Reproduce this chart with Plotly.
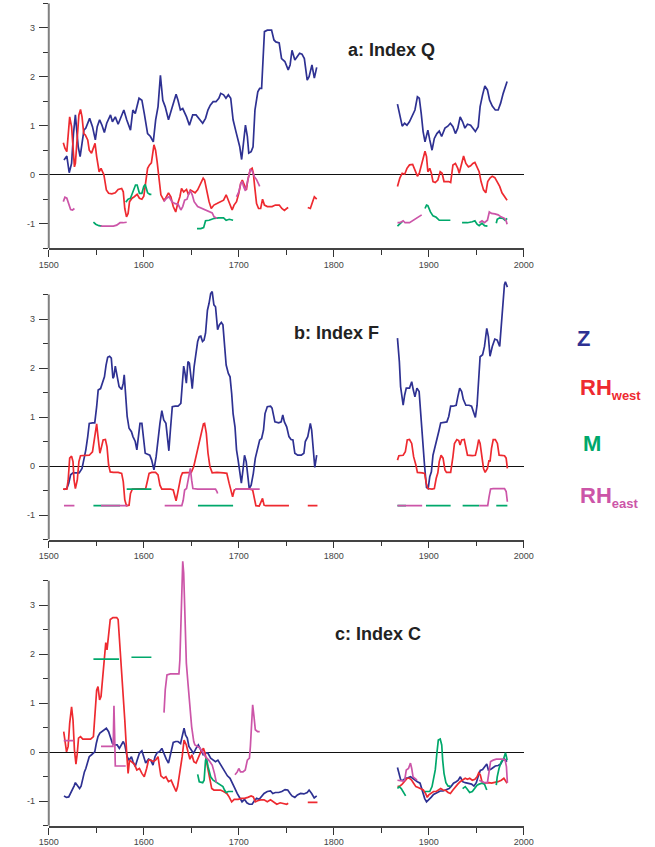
import plotly.graph_objects as go

# ---------------- data (year, value) segments ----------------
# Panel a: Index Q
A_Z = [
    [(1516,0.30),(1519,0.38),(1521.5,0.04),(1524,0.23),(1526,0.84),(1528,1.22),(1531,0.57),(1533,0.37),
     (1535,0.64),(1537,0.91),(1539,0.95),(1543,1.15),(1546,0.98),(1549,0.71),(1551,0.98),(1553.5,1.12),
     (1556,1.01),(1558.5,0.86),(1561,1.05),(1565,1.22),(1567,1.08),(1570,1.18),(1573,1.03),(1577,1.22),
     (1579,1.32),(1582,1.12),(1586,0.91),(1588.5,1.32),(1591,1.25),(1595,1.56),(1598,1.52),(1600.5,1.25),
     (1604,0.84),(1607,0.78),(1610,0.67),(1612.5,1.12),(1615,1.39),(1617.5,2.03),(1620,1.52),(1622.5,1.39),
     (1626,1.12),(1629.5,1.35),(1634,1.64),(1636,1.52),(1638.5,1.32),(1641,1.35),(1645,1.18),(1648,1.01),
     (1651.5,1.22),(1655,1.22),(1658,1.15),(1662,1.05),(1665,1.15),(1667.5,1.32),(1670,1.42),(1673,1.49),
     (1676,1.49),(1679,1.56),(1681,1.66),(1684,1.63),(1686.5,1.56),(1689,1.63),(1691.5,1.56),(1694,1.12),
     (1697,0.88),(1699,0.71),(1701,0.57),(1703,0.31),(1705,0.64),(1707,1.01),(1709,0.78),(1710.5,0.44),
     (1713,0.47),(1715,0.57),(1717,1.32),(1720,1.69),(1722,1.76),(1724,1.76),(1725.5,2.34),(1727,2.92),
     (1730,2.95),(1734.5,2.95),(1737,2.75),(1739,2.71),(1742.5,2.69),(1745,2.37),(1748.5,2.31),(1752,2.14),
     (1754,2.24),(1756,2.54),(1759,2.34),(1762,2.44),(1764,2.48),(1766.5,2.46),(1769,2.37),(1772,1.93),
     (1774,2.00),(1777,2.24),(1779.5,1.97),(1782,2.19)],
    [(1867,1.44),(1869.5,1.22),(1872,0.99),(1874.5,1.05),(1877,1.01),(1879.6,1.08),(1883,1.22),(1885.4,1.32),
     (1888,1.59),(1890,1.56),(1892,1.25),(1894,0.88),(1896,0.67),(1897.6,0.84),(1899,0.91),(1901,0.71),
     (1903.4,0.50),(1905.8,0.74),(1908.5,0.84),(1911,0.89),(1913.5,0.78),(1917,0.95),(1920,0.99),(1922.7,1.05),
     (1925.4,0.98),(1928,0.84),(1930.5,0.95),(1933,1.18),(1935.6,1.08),(1938,0.95),(1940.7,1.03),(1944,1.01),
     (1946.4,0.95),(1949,0.88),(1952,0.98),(1954,1.39),(1956.6,1.63),(1959,1.81),(1961.7,1.73),(1964,1.52),
     (1966.8,1.40),(1970,1.32),(1973,1.32),(1975.6,1.46),(1978.3,1.66),(1980.3,1.78),(1982.4,1.90)],
]
A_W = [
    [(1515.3,0.65),(1517,0.54),(1519,0.47),(1520.4,0.84),(1522,1.18),(1524,0.98),(1525.5,0.57),(1527,0.16),
     (1528,0.23),(1530,0.84),(1531.7,1.22),(1533.4,1.33),(1535,1.18),(1536.8,0.84),(1538.5,0.81),(1541,0.71),
     (1542.6,0.50),(1545,0.44),(1547,0.54),(1548.7,0.64),(1550.4,0.37),(1553,0.06),(1555,0.13),(1558,0.0),
     (1560.6,-0.31),(1563,-0.38),(1566.4,-0.39),(1570,-0.37),(1573,-0.30),(1576.7,-0.28),(1578.4,-0.35),
     (1580,-0.69),(1581.8,-0.86),(1583.5,-0.79),(1585,-0.55),(1587.6,-0.48),(1590,-0.45),(1593,-0.40),
     (1595.4,-0.48),(1598,-0.50),(1600,-0.44),(1602,-0.18),(1604,0.13),(1606,0.20),(1608,0.24),(1610.7,0.61),
     (1612.4,0.50),(1614,0.27),(1616,-0.11),(1618,-0.41),(1621,-0.52),(1623,-0.48),(1626,-0.37),(1628.5,-0.45),
     (1631,-0.65),(1633.6,-0.76),(1635.6,-0.60),(1638,-0.45),(1639.7,-0.28),(1642,-0.35),(1645,-0.30),
     (1647,-0.41),(1649,-0.31),(1651.6,-0.35),(1654,-0.37),(1656.7,-0.31),(1660,-0.18),(1662.5,-0.07),
     (1664,-0.11),(1666,-0.31),(1668.7,-0.55),(1671,-0.69),(1673.8,-0.62),(1677,-0.59),(1680.6,-0.55),
     (1684,-0.52),(1686.7,-0.41),(1689,-0.52),(1690.8,-0.62),(1693,-0.72),(1695,-0.62),(1697.6,-0.55),
     (1700,-0.38),(1702,-0.18),(1703.7,-0.11),(1706,-0.24),(1708,-0.31),(1709.5,-0.11),(1712,0.10),(1714,0.13),
     (1715.3,0.03),(1716.7,-0.24),(1718.7,-0.59),(1720.8,-0.69),(1723,-0.69),(1725,-0.50),(1727,-0.62),
     (1730,-0.65),(1735,-0.65),(1738.5,-0.62),(1742.6,-0.62),(1745.3,-0.69),(1748,-0.73),(1750.4,-0.69),
     (1752,-0.67)],
    [(1772.6,-0.67),(1775.3,-0.69),(1777.7,-0.55),(1779.5,-0.45),(1782,-0.50)],
    [(1867,-0.24),(1869.5,-0.07),(1872,0.03),(1874.6,0.01),(1877,0.13),(1879.7,0.20),(1883,0.21),(1885.4,0.11),
     (1888,-0.03),(1890,0.03),(1892,0.18),(1894,0.27),(1896,0.48),(1897.6,0.37),(1899,0.06),(1901,0.13),
     (1902.7,0.03),(1904.4,-0.14),(1906.8,-0.16),(1909.5,-0.11),(1912,0.06),(1914,0.03),(1916,-0.14),
     (1918.6,-0.14),(1921,-0.14),(1923,-0.16),(1925.4,0.20),(1928,0.23),(1930.5,0.13),(1932,0.03),(1934.6,0.23),
     (1936.6,0.38),(1939,0.23),(1941.7,0.16),(1944,0.18),(1946.4,0.23),(1948.5,0.25),(1950.8,0.16),(1953,0.06),
     (1955,-0.14),(1957.6,-0.31),(1960,-0.37),(1962,-0.14),(1964.4,-0.07),(1966.8,-0.03),(1969.5,-0.06),
     (1972,-0.14),(1974.6,-0.24),(1977,-0.37),(1979.7,-0.45),(1982.4,-0.52)],
]
A_M = [
    [(1547,-0.97),(1549.4,-1.01),(1552.8,-1.04),(1556,-1.05)],
    [(1581,-0.56),(1583.5,-0.50),(1586,-0.48),(1588.6,-0.35),(1591.3,-0.21),(1593,-0.21),(1595.4,-0.38),
     (1598,-0.38),(1600,-0.24),(1601.5,-0.20),(1604,-0.37),(1606.3,-0.40),(1608,-0.40)],
    [(1656,-1.10),(1660,-1.10),(1663,-1.08),(1665,-0.94),(1668.7,-0.93),(1672,-0.91),(1674.4,-0.89),
     (1679,-0.88),(1684,-0.88),(1686.7,-0.93),(1690,-0.91),(1694,-0.93)],
    [(1867,-1.05),(1869.5,-1.01),(1872,-0.96)],
    [(1896,-0.69),(1897.6,-0.62),(1899,-0.63),(1901.7,-0.76),(1904.4,-0.84),(1907.8,-0.87),(1911,-0.93),
     (1917,-0.93),(1922.7,-0.93)],
    [(1935,-0.98),(1940.7,-0.98),(1945.8,-0.96),(1948.5,-0.94),(1950.8,-1.01),(1953,-1.04),(1956,-0.99),
     (1958.6,-1.04),(1961.7,-1.05)],
    [(1971,-0.99),(1972,-0.91),(1974.6,-0.88),(1978,-0.89),(1980.3,-0.93),(1982.4,-0.89)],
]
A_E = [
    [(1515.3,-0.55),(1517,-0.46),(1519,-0.48),(1521,-0.62),(1523,-0.71),(1525,-0.72),(1527,-0.69)],
    [(1554.5,-1.05),(1561,-1.05),(1568,-1.05),(1571.5,-1.03),(1575,-0.98),(1578,-0.98),(1582,-0.97)],
    [(1621,-0.55),(1624,-0.48),(1626.7,-0.45),(1629.5,-0.55),(1633,-0.59),(1636,-0.60),(1639,-0.72),
     (1641,-0.65),(1643,-0.52),(1645.5,-0.50),(1647.5,-0.38),(1649,-0.33),(1651,-0.41),(1653,-0.55),
     (1656.7,-0.65),(1662,-0.69),(1667,-0.73),(1670,-0.76),(1672,-0.78),(1674,-0.86),(1677,-0.89)],
    [(1697.6,-0.45),(1700,-0.35),(1702,-0.18),(1703.7,-0.14),(1705,-0.24),(1707,-0.33),(1709.5,-0.11),
     (1712,0.10),(1714,0.08),(1716.4,-0.04),(1718.7,-0.10),(1720.8,-0.18),(1722,-0.24)],
    [(1867,-0.98),(1869.5,-0.98),(1873,-0.94),(1875,-0.98),(1879.7,-0.98),(1883,-0.94),(1886.4,-0.89),
     (1890,-0.86),(1892.5,-0.82)],
    [(1953,-0.98),(1956,-0.94),(1958.6,-0.98),(1961.7,-0.93),(1963.7,-0.76),(1966,-0.79),(1969.5,-0.80),
     (1973,-0.82),(1976,-0.86),(1979.7,-0.89),(1981.4,-0.94),(1982.4,-1.01)],
]

# Panel b: Index F
B_Z = [
    [(1516,-0.48),(1519,-0.46),(1521,-0.35),(1523,-0.18),(1525.5,-0.14),(1529,-0.14),(1532,-0.14),(1535,-0.05),
     (1537.5,0.19),(1539,0.33),(1541,0.60),(1542.6,0.87),(1546,0.88),(1548.4,0.88),(1550.4,1.21),(1552,1.55),
     (1554.5,1.58),(1557,1.76),(1558.6,1.82),(1560.3,2.06),(1562,2.22),(1564,2.24),(1565.8,2.20),(1567.5,1.79),
     (1568.5,1.82),(1570,2.04),(1571.6,1.86),(1574,1.62),(1576.7,1.56),(1578.4,1.69),(1579.4,1.86),(1580.7,1.55),
     (1582.5,1.01),(1584.5,0.77),(1587,0.70),(1588.6,0.60),(1591,0.50),(1592.7,0.33),(1594.4,0.67),(1596,0.87),
     (1598,0.87),(1599.5,0.60),(1601.5,0.26),(1604,0.24),(1606.3,0.22),(1608.3,0.12),(1610.7,-0.08),(1613,0.19),
     (1615,0.60),(1617,0.87),(1619,1.13),(1621,0.94),(1623.3,0.87),(1625,0.60),(1626.4,0.31),(1628,0.73),
     (1630,1.21),(1633,1.22),(1636,1.22),(1639,1.28),(1640.7,1.76),(1642,2.04),(1643.4,1.89),(1644.8,1.69),
     (1646.5,2.13),(1648,2.10),(1650,1.76),(1651,1.58),(1653,2.03),(1655,2.37),(1656.7,2.54),(1658.4,2.64),
     (1660,2.65),(1661.8,2.54),(1663.4,2.57),(1665,2.71),(1667,3.18),(1668.7,3.32),(1670.4,3.52),(1672,3.56),
     (1673.8,3.29),(1675.5,3.25),(1677.7,2.78),(1679.5,2.88),(1681.6,2.93),(1683.3,2.88),(1684.7,2.54),
     (1686.7,2.06),(1689,1.89),(1690.8,1.82),(1692.5,1.48),(1694,1.07),(1696,0.80),(1697.6,0.33),(1699.3,0.12),
     (1701,-0.15),(1702.7,-0.35),(1704.4,-0.08),(1706,0.22),(1707.8,0.09),(1709.5,-0.29),(1711,-0.46),
     (1713,-0.39),(1715.3,-0.15),(1717.4,0.16),(1719.8,0.36),(1722,0.53),(1724,0.56),(1726,0.73),(1727.6,1.07),
     (1730,1.21),(1733.4,1.22),(1735,1.18),(1738,0.90),(1742,0.88),(1744.6,0.90),(1746.3,1.04),(1748,0.90),
     (1750.4,0.80),(1752.8,0.60),(1755,0.54),(1757,0.53),(1759,0.26),(1762,0.22),(1765.8,0.22),(1768.5,0.26),
     (1770,0.50),(1772.6,0.60),(1775.3,0.87),(1776.7,0.73),(1779,0.19),(1780,-0.03),(1782,0.22)],
    [(1867,2.61),(1869,2.13),(1870.3,1.62),(1873,1.24),(1874.6,1.45),(1876.3,1.59),(1879.7,1.59),(1882,1.72),
     (1883.7,1.55),(1885.4,1.41),(1887.5,1.59),(1889.8,1.52),(1891.5,1.07),(1893,0.60),(1895.6,-0.01),
     (1897.6,-0.44),(1899.3,-0.46),(1901,-0.22),(1902.7,-0.12),(1904.4,0.22),(1906.8,0.39),(1909,0.60),
     (1910.8,0.73),(1912.5,0.88),(1915,0.89),(1919,0.90),(1921,1.01),(1923,1.22),(1925.4,1.22),(1928.8,1.24),
     (1930.5,1.41),(1932.5,1.59),(1934.6,1.52),(1936.3,1.36),(1939,1.24),(1942.4,1.24),(1945,1.22),
     (1947.5,1.07),(1949,0.99),(1950.8,1.24),(1952.5,1.76),(1954,2.23),(1956.6,2.27),(1958.6,2.44),(1961,2.81),
     (1962.7,2.64),(1964.4,2.24),(1966.8,2.44),(1969.5,2.59),(1972,2.57),(1974.6,2.44),(1976.3,2.91),
     (1978,3.39),(1979.6,3.70),(1980.6,3.76),(1982.7,3.65)],
]
B_W = [
    [(1515,-0.47),(1519,-0.47),(1520.4,-0.29),(1522,0.16),(1524,0.20),(1525.5,0.09),(1526.6,-0.29),(1528,-0.46),
     (1530,-0.29),(1531.7,0.09),(1533.4,0.21),(1536,0.21),(1539,0.21),(1542.6,0.22),(1546,0.29),(1547.7,0.53),
     (1549.4,0.80),(1550.4,0.86),(1551.8,0.60),(1553.8,0.26),(1555.5,0.39),(1557.2,0.53),(1559.6,0.54),
     (1561.3,0.39),(1563,0.02),(1564.7,-0.12),(1568,-0.13),(1573,-0.13),(1576.7,-0.15),(1578.4,-0.32),
     (1580,-0.69),(1581.8,-0.81),(1584.5,-0.80),(1586,-0.56),(1588,-0.47),(1592,-0.47),(1599,-0.47),
     (1602,-0.46),(1604,-0.29),(1605.6,-0.15),(1608.3,-0.13),(1612.4,-0.13),(1615,-0.18),(1617,-0.39),
     (1619,-0.47),(1622.6,-0.47),(1627.8,-0.47),(1631,-0.49),(1633,-0.63),(1634,-0.71),(1635.6,-0.56),
     (1637,-0.42),(1639,-0.22),(1640.7,-0.14),(1644.8,-0.13),(1650,-0.13),(1652.6,-0.01),(1655,0.19),
     (1657.4,0.36),(1659.5,0.53),(1661,0.67),(1662.8,0.86),(1664,0.87),(1665.8,0.67),(1667.6,0.26),
     (1669.6,-0.01),(1672,-0.14),(1677,-0.13),(1684,-0.14),(1687.4,-0.15),(1689.8,-0.35),(1691.8,-0.48),
     (1693.5,-0.63),(1695.2,-0.49),(1697.6,-0.47),(1704.4,-0.47),(1711,-0.47),(1714.6,-0.49),(1716.4,-0.63),
     (1718,-0.81),(1721.5,-0.82),(1723.5,-0.73),(1725,-0.66),(1726.6,-0.80),(1728.3,-0.81),(1738.5,-0.81),
     (1752.8,-0.81)],
    [(1772.6,-0.81),(1782.8,-0.81)],
    [(1867,0.12),(1868.5,0.21),(1873,0.22),(1875.3,0.29),(1877.3,0.53),(1879.7,0.54),(1882,0.46),(1884,0.19),
     (1886.4,0.02),(1888,-0.13),(1893,-0.14),(1895.6,-0.15),(1897.3,-0.35),(1899,-0.46),(1903.4,-0.47),
     (1905.8,-0.46),(1907.8,-0.25),(1909.5,-0.14),(1911,0.09),(1912.9,0.22),(1915,0.16),(1917,-0.08),
     (1918.6,-0.13),(1923,-0.13),(1925.4,0.19),(1927,0.46),(1929.5,0.54),(1931.5,0.52),(1932.9,0.43),
     (1934.6,0.53),(1937.3,0.54),(1939,0.39),(1940.7,0.22),(1945.8,0.21),(1949,0.22),(1950.8,0.36),
     (1952.5,0.54),(1954,0.46),(1955.9,0.16),(1957.6,-0.05),(1959.3,-0.13),(1961.7,-0.05),(1963.4,0.12),
     (1964.4,0.09),(1966,0.36),(1967.8,0.54),(1970,0.54),(1972.2,0.46),(1974,0.22),(1976.3,0.22),
     (1979.7,0.21),(1981.4,0.16),(1982.7,-0.05)],
]
B_M = [
    [(1547,-0.81),(1575,-0.81)],
    [(1582,-0.47),(1608,-0.47)],
    [(1657,-0.81),(1694,-0.81)],
    [(1867,-0.81),(1876,-0.81)],
    [(1897,-0.81),(1923,-0.81)],
    [(1935.6,-0.81),(1953,-0.81)],
    [(1971,-0.81),(1982.7,-0.81)],
]
B_E = [
    [(1516,-0.81),(1527,-0.81)],
    [(1555,-0.81),(1583,-0.81)],
    [(1622,-0.81),(1640,-0.81),(1641.5,-0.70),(1643,-0.49),(1645,-0.46),(1646.5,-0.29),(1648,-0.08),
     (1649,-0.05),(1650.4,-0.29),(1651.7,-0.46),(1656.7,-0.47),(1670,-0.47),(1675.5,-0.47),(1677,-0.52),
     (1677.7,-0.56)],
    [(1696,-0.47),(1722,-0.47)],
    [(1867,-0.81),(1893,-0.81)],
    [(1953,-0.81),(1962,-0.81),(1963.4,-0.63),(1965,-0.47),(1967.8,-0.46),(1979.7,-0.46),(1981.4,-0.52),
     (1982.7,-0.73)],
]

# Panel c: Index C
C_Z = [
    [(1516,-0.89),(1518.7,-0.92),(1521,-0.91),(1524,-0.80),(1526.6,-0.69),(1528,-0.62),(1530,-0.67),
     (1532.4,-0.74),(1534,-0.69),(1535.8,-0.53),(1537.5,-0.40),(1539,-0.33),(1541,-0.16),(1542.6,-0.09),
     (1545,-0.05),(1546.7,-0.01),(1548.4,0.01),(1550,0.18),(1551.8,0.32),(1553.8,0.39),(1556,0.42),
     (1558.6,0.47),(1560.6,0.49),(1563,0.42),(1564.7,0.32),(1567,0.18),(1570,0.15),(1572,0.15),(1574.3,0.08),
     (1576,0.13),(1578.4,0.22),(1580,0.15),(1582.5,-0.09),(1584.5,-0.16),(1587,-0.09),(1588.6,-0.19),
     (1591,-0.29),(1593,-0.16),(1595.4,-0.02),(1598,0.03),(1600,-0.09),(1602,-0.22),(1605,-0.14),
     (1607.3,-0.16),(1609.7,-0.26),(1611.8,-0.09),(1614,-0.01),(1616.5,0.01),(1619,0.08),(1621.6,-0.05),
     (1623.7,-0.14),(1626,-0.22),(1628.5,-0.02),(1631,0.20),(1633.6,0.22),(1636,0.22),(1638.7,0.18),
     (1640.7,0.32),(1642.4,0.49),(1644,0.35),(1645.8,0.29),(1647.5,0.12),(1650,0.05),(1652.3,-0.02),
     (1655,0.08),(1657.4,0.15),(1660,0.05),(1662.5,-0.05),(1665,-0.01),(1667.6,-0.02),(1670.4,-0.12),
     (1673,-0.16),(1675.5,-0.19),(1678,-0.16),(1680.6,-0.24),(1683.3,-0.33),(1685.7,-0.40),(1688,-0.48),
     (1690.8,-0.53),(1693.4,-0.62),(1696,-0.74),(1698.3,-0.84),(1701,-0.94),(1703.4,-1.01),(1706,-0.96),
     (1708.5,-1.03),(1711,-1.06),(1714,-1.06),(1716.4,-0.99),(1718.7,-0.94),(1721.5,-0.96),(1724,-0.91),
     (1726.6,-0.84),(1730,-0.80),(1733.4,-0.79),(1735.8,-0.84),(1738.5,-0.82),(1742,-0.82),(1745.3,-0.80),
     (1748.7,-0.76),(1751.5,-0.77),(1754,-0.84),(1756,-0.89),(1759,-0.92),(1761.7,-0.87),(1765,-0.84),
     (1768.5,-0.85),(1772,-0.82),(1774,-0.77),(1776.7,-0.84),(1779.4,-0.93),(1782,-0.89)],
    [(1867,-0.31),(1868.8,-0.43),(1870.5,-0.57),(1873,-0.57),(1875.3,-0.53),(1878,-0.52),(1880.7,-0.50),
     (1883,-0.53),(1885.4,-0.57),(1888,-0.60),(1890.8,-0.63),(1893.2,-0.80),(1895.6,-0.94),(1897.6,-1.01),
     (1900,-0.97),(1902.4,-0.92),(1905,-0.86),(1908.5,-0.82),(1912,-0.79),(1915,-0.79),(1918.6,-0.77),
     (1921.4,-0.74),(1923.7,-0.69),(1926,-0.63),(1928.8,-0.60),(1931,-0.57),(1933.2,-0.50),(1935.6,-0.60),
     (1938.3,-0.62),(1941.7,-0.63),(1945,-0.65),(1947.5,-0.69),(1950,-0.62),(1952.5,-0.46),(1954.2,-0.37),
     (1956.6,-0.35),(1959.3,-0.29),(1961,-0.24),(1962.7,-0.36),(1965,-0.35),(1967.8,-0.31),(1970,-0.28),
     (1973,-0.27),(1975.6,-0.24),(1978,-0.16),(1979.7,-0.14),(1982.4,-0.19)],
]
C_W = [
    [(1515.7,0.42),(1517,0.22),(1518.7,0.01),(1520.4,0.12),(1522,0.59),(1524,0.93),(1525.5,0.66),(1527,0.05),
     (1528.6,-0.24),(1530,-0.02),(1531.3,0.29),(1533.4,0.32),(1535.8,0.27),(1539,0.27),(1544,0.27),(1547,0.32),
     (1548.7,0.80),(1550.4,1.27),(1551.8,1.34),(1553.5,1.07),(1555,1.14),(1557,1.55),(1558.6,1.89),(1560,2.24),
     (1561.3,2.09),(1563,2.37),(1564.7,2.71),(1567.5,2.75),(1571.5,2.75),(1573,2.71),(1575,2.16),(1576.7,1.68),
     (1578.4,1.21),(1580,0.66),(1581.8,0.05),(1583.5,-0.43),(1585,-0.16),(1588,-0.22),(1590,-0.24),
     (1592.7,-0.36),(1595.4,-0.33),(1598,-0.43),(1600.5,-0.50),(1603,-0.33),(1605,-0.16),(1607.3,-0.16),
     (1610,-0.19),(1612.4,-0.16),(1615,-0.09),(1616.5,-0.29),(1618,-0.48),(1621,-0.53),(1623.3,-0.50),
     (1626,-0.60),(1628.8,-0.57),(1631,-0.67),(1634,-0.80),(1635.6,-0.70),(1638,-0.43),(1640.4,-0.09),
     (1642.4,0.25),(1644.8,0.15),(1646.5,0.01),(1648.6,-0.14),(1650.6,-0.05),(1652.7,-0.19),(1655,-0.22),
     (1657.4,-0.09),(1660,0.01),(1662.8,0.08),(1664.5,-0.02),(1667,-0.29),(1669.4,-0.57),(1671.5,-0.74),
     (1673.8,-0.77),(1677,-0.77),(1680.6,-0.77),(1684,-0.80),(1687.4,-0.84),(1689.8,-0.91),(1692.5,-1.01),
     (1695.2,-0.96),(1699.3,-0.96),(1702.7,-0.94),(1706,-0.94),(1709.5,-0.92),(1713,-0.89),(1715.3,-0.91),
     (1717.4,-1.01),(1719.8,-0.99),(1723,-0.97),(1726.6,-0.97),(1730,-1.01),(1733.4,-0.97),(1736.8,-1.02),
     (1740,-1.06),(1743.6,-1.03),(1747,-1.04),(1750.4,-1.06),(1752,-1.04)],
    [(1772.6,-1.02),(1782.8,-1.02)],
    [(1867,-0.70),(1869.5,-0.69),(1872,-0.65),(1874.6,-0.60),(1877.3,-0.53),(1879.7,-0.53),(1882,-0.57),
     (1884,-0.63),(1886.4,-0.70),(1888.8,-0.72),(1891.5,-0.74),(1894.2,-0.77),(1896.6,-0.84),(1898.3,-0.92),
     (1900,-0.87),(1902.4,-0.84),(1905,-0.80),(1907.8,-0.80),(1910,-0.77),(1912.5,-0.74),(1915,-0.77),
     (1918,-0.78),(1920.3,-0.82),(1922.7,-0.84),(1925.4,-0.77),(1928,-0.70),(1930.5,-0.65),(1933,-0.60),
     (1935.6,-0.57),(1938.3,-0.53),(1940.7,-0.55),(1943,-0.53),(1945.8,-0.57),(1948.5,-0.55),(1950.8,-0.50),
     (1952.5,-0.42),(1954.2,-0.46),(1956,-0.60),(1958.6,-0.63),(1961,-0.62),(1963.4,-0.62),(1966,-0.63),
     (1969.5,-0.62),(1972.9,-0.60),(1976.3,-0.57),(1979,-0.53),(1981.4,-0.60),(1982.4,-0.63)],
]
C_M = [
    [(1547,1.90),(1574,1.90)],
    [(1587,1.94),(1608,1.94)],
    [(1656.7,-0.45),(1658.4,-0.60),(1662,-0.62),(1663.5,-0.57),(1665,-0.16),(1666,-0.12),(1667.6,-0.29),
     (1670.4,-0.50),(1673,-0.57),(1677,-0.62),(1680.6,-0.67),(1683.3,-0.70),(1685,-0.77),(1686.7,-0.82),
     (1689,-0.80),(1694,-0.80)],
    [(1867,-0.74),(1868.8,-0.70),(1871,-0.74),(1873.6,-0.84),(1875.6,-0.89)],
    [(1896,-0.80),(1898.3,-0.80),(1901,-0.80),(1903.4,-0.70),(1905,-0.57),(1906.8,-0.36),(1908.5,-0.02),
     (1910,0.25),(1912,0.27),(1913.6,0.15),(1914.6,-0.16),(1916,-0.43),(1918,-0.62),(1920.3,-0.69),
     (1923,-0.69)],
    [(1935.6,-0.74),(1938.3,-0.70),(1940.7,-0.76),(1943,-0.82),(1945.8,-0.80),(1948.5,-0.74),(1950.8,-0.67),
     (1953,-0.65),(1956,-0.63),(1958.6,-0.65),(1961,-0.77)],
    [(1971,-0.67),(1972,-0.50),(1973.9,-0.33),(1976.3,-0.19),(1978.6,-0.14),(1980.7,-0.01),(1981.7,-0.09),
     (1982.4,-0.16)],
]
C_E = [
    [(1515.7,0.24),(1526,0.24)],
    [(1555,0.12),(1567.5,0.12),(1568,0.32),(1568.6,0.95),(1569.3,0.39),(1570,-0.28),(1575,-0.28),(1581,-0.28)],
    [(1621.3,0.81),(1622.6,1.28),(1624.4,1.58),(1628,1.60),(1633,1.60),(1637,1.60),(1638,1.89),(1639,2.57),
     (1640,3.52),(1641,3.90),(1642,3.66),(1643,2.91),(1644.8,1.82),(1646.5,1.41),(1648,1.07),(1649,0.93),
     (1650.4,0.52),(1652.6,0.22),(1653.8,0.15),(1655.8,0.13),(1658.4,0.10),(1662,0.01),(1665,-0.09),
     (1668.4,-0.16),(1672,-0.26),(1674.4,-0.43),(1676.4,-0.62)],
    [(1696,-0.46),(1698.4,-0.40),(1700,-0.33),(1701.8,-0.40),(1704.4,-0.40),(1706.8,-0.36),(1709,-0.16),
     (1711.2,-0.12),(1712.2,0.12),(1713.6,0.66),(1714.6,0.97),(1716,0.73),(1717.4,0.46),(1719.8,0.42),
     (1722,0.42)],
    [(1867,-0.57),(1869.5,-0.58),(1873,-0.59),(1874.6,-0.57),(1876.3,-0.36),(1878.6,-0.33),(1880.7,-0.22),
     (1882,-0.33),(1883.4,-0.50),(1885.4,-0.53),(1887.5,-0.57)],
    [(1953,-0.57),(1956,-0.60),(1958.6,-0.62),(1961.7,-0.62),(1963.4,-0.43),(1965,-0.19),(1967.8,-0.16),
     (1971,-0.14),(1974.6,-0.14),(1978,-0.14),(1980.3,-0.16),(1981.7,-0.29),(1982.7,-0.62)],
]

PANEL_TITLES = ["a: Index Q", "b: Index F", "c: Index C"]
X_TICKS = [1500, 1600, 1700, 1800, 1900, 2000]
X_MINOR = [1550, 1650, 1750, 1850, 1950]
Y_TICKS = [-1, 0, 1, 2, 3]
Y_MINOR = [-1.5, -0.5, 0.5, 1.5, 2.5, 3.5]
LEGEND_MAIN = ["Z", "RH", "M", "RH"]
LEGEND_SUB = ["", "west", "", "east"]

# ---------------- styling ----------------
W, H = 655, 847
BLUE, RED, GREEN, PINK = "#2E3192", "#EE2A30", "#00A86B", "#CC55A8"
XAXC = "#444444"
YAXC = "#808080"
TICKC = "#333333"
FONT = "Liberation Sans, Arial, Helvetica, sans-serif"


def build(segs):
    xs, ys = [], []
    for i, seg in enumerate(segs):
        if i:
            xs.append(None)
            ys.append(None)
        for x, y in seg:
            xs.append(x)
            ys.append(y)
    return xs, ys


# pixel layout: 49 px per unit, zero line positions
PX_PER = 49.0
ZERO_PX = [174.7, 466.0, 752.3]
Y_TOP = [3.5, 4.0, 4.0]
X0_PX, X1_PX = 40, 530

fig = go.Figure()
panels = [(A_Z, A_W, A_M, A_E), (B_Z, B_W, B_M, B_E), (C_Z, C_W, C_M, C_E)]
colors = [BLUE, RED, GREEN, PINK]

layout = dict(
    width=W, height=H, margin=dict(l=0, r=0, t=0, b=0, pad=0),
    paper_bgcolor="white", plot_bgcolor="white", showlegend=False,
    font=dict(family=FONT, color="#333"),
)
shapes = []
annotations = []

for i, series in enumerate(panels):
    n = i + 1
    xa = "x" if n == 1 else f"x{n}"
    ya = "y" if n == 1 else f"y{n}"
    for segs, col in zip(series, colors):
        xs, ys = build(segs)
        fig.add_trace(go.Scatter(x=xs, y=ys, mode="lines", xaxis=xa, yaxis=ya,
                                 line=dict(color=col, width=1.7), hoverinfo="skip"))
    bottom_px = ZERO_PX[i] + 1.5 * PX_PER
    top_px = ZERO_PX[i] - Y_TOP[i] * PX_PER
    dom = [1 - bottom_px / H, 1 - top_px / H]
    key_x = "xaxis" if n == 1 else f"xaxis{n}"
    key_y = "yaxis" if n == 1 else f"yaxis{n}"
    layout[key_x] = dict(
        domain=[X0_PX / W, X1_PX / W], anchor=ya, range=[1500, 2000],
        showline=True, linecolor=XAXC, linewidth=1.5, mirror=False,
        ticks="outside", ticklen=7, tickwidth=1.2, tickcolor=TICKC,
        tickmode="array", tickvals=X_TICKS, ticktext=[str(v) for v in X_TICKS],
        tickfont=dict(size=9, color="#444", family=FONT),
        minor=dict(tickmode="array", tickvals=X_MINOR, ticks="outside", ticklen=5,
                   tickwidth=1.2, tickcolor=TICKC),
        showgrid=False, zeroline=False, fixedrange=True,
    )
    layout[key_y] = dict(
        domain=dom, anchor=xa, range=[-1.5, Y_TOP[i]],
        showline=False, ticks="outside", ticklen=9, tickwidth=1.2, tickcolor=TICKC,
        tickmode="array", tickvals=Y_TICKS, ticktext=[str(v) for v in Y_TICKS],
        tickfont=dict(size=9, color="#444", family=FONT),
        minor=dict(tickmode="array", tickvals=Y_MINOR, ticks="outside", ticklen=5,
                   tickwidth=1.2, tickcolor=TICKC),
        showgrid=False, zeroline=True, zerolinecolor="#111", zerolinewidth=1.2,
        fixedrange=True, ticklabelstandoff=2,
    )
    # y axis line from -1.5 to 3.5
    shapes.append(dict(type="line", xref="paper", yref=ya, x0=X0_PX / W, x1=X0_PX / W,
                       y0=-1.5, y1=3.5, line=dict(color=YAXC, width=2)))

# panel titles
title_pos = [(393, 50), (337, 333), (380, 634)]
for t, (px, py) in zip(PANEL_TITLES, title_pos):
    annotations.append(dict(text=f"<b>{t}</b>", x=px / W, y=1 - py / H, xref="paper", yref="paper",
                            showarrow=False, xanchor="center", yanchor="middle",
                            font=dict(size=18, color="#222", family=FONT)))

# legend-like labels (main letters centred at given y, subscript appended)
leg_pos = [(583, 338), (586, 389), (589, 443), (586, 497)]
for main, sub, col, (px, py) in zip(LEGEND_MAIN, LEGEND_SUB, colors, leg_pos):
    txt = f"<b>{main}</b>"
    if sub:
        txt += f"<sub><b><span style='font-size:13px'>{sub}</span></b></sub>"
    annotations.append(dict(text=txt, x=px / W, y=1 - py / H, xref="paper", yref="paper",
                            showarrow=False, xanchor="left", yanchor="middle",
                            font=dict(size=22, color=col, family=FONT)))

layout["shapes"] = shapes
layout["annotations"] = annotations
fig.update_layout(**layout)
fig.write_html("out.html", config={"displayModeBar": False},
               post_script="document.body.style.margin='0px';document.body.style.padding='0px';")
